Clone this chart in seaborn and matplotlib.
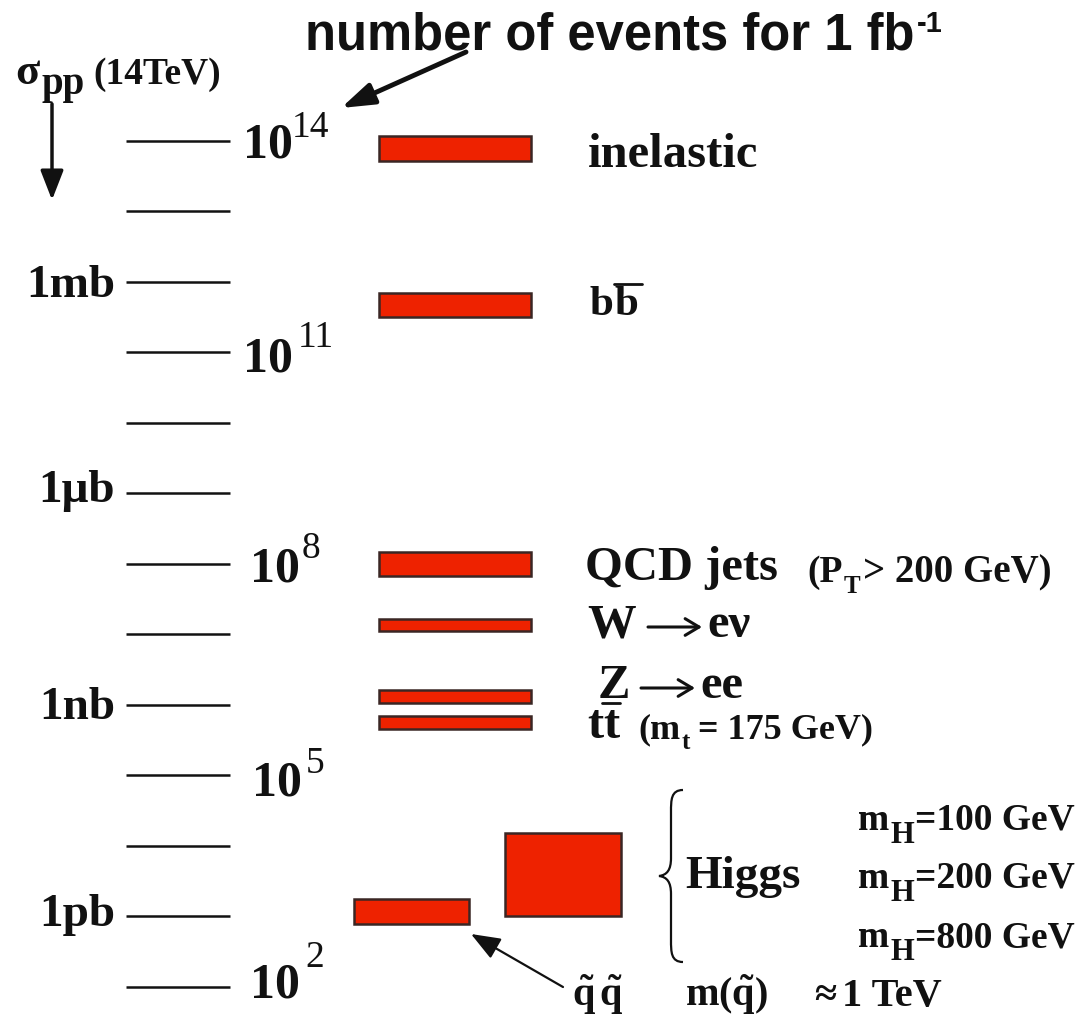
import numpy as np
import pandas as pd
import matplotlib
matplotlib.use("Agg")
import matplotlib.pyplot as plt
from matplotlib.path import Path
from matplotlib.patches import PathPatch
import seaborn as sns

# ---------------- data ----------------
processes = ["inelastic", "bb", "QCD jets", "W->enu", "Z->ee", "tt", "Higgs", "squark"]
log_events_low = [13.71, 11.50, 7.82, 7.05, 6.02, 5.66, 3.00, 2.89]
log_events_high = [14.06, 11.84, 8.17, 7.22, 6.20, 5.84, 4.18, 3.24]
column = ["main", "main", "main", "main", "main", "main", "higgs", "squark"]
decades = list(range(2, 15))
event_labels = ["14", "11", "8", "5", "2"]
xsec_labels = ["1mb", "1\u03bcb", "1nb", "1pb"]
higgs_masses = ["100", "200", "800"]

df = pd.DataFrame({"process": processes, "lo": log_events_low,
                   "hi": log_events_high, "column": column})

# ---------------- style ----------------
sns.set_theme(style="white")
SERIF = "Liberation Serif"
SANS = "Liberation Sans"
plt.rcParams["mathtext.fontset"] = "custom"
plt.rcParams["mathtext.rm"] = "Liberation Serif:bold"
plt.rcParams["mathtext.bf"] = "Liberation Serif:bold"
plt.rcParams["mathtext.it"] = "Liberation Serif:bold"
INK = "#111111"
RED = "#EE2200"
EDGE = "#3a2624"

W, H = 1086, 1031
fig = plt.figure(figsize=(W / 100, H / 100), dpi=100)
fig.patch.set_facecolor("white")

# main axis: y = number of events (log), x = layout pixels
ax = fig.add_axes([0, 0, 1, 1])
ax.set_xlim(0, W)
ax.set_yscale("log")
PX_PER_DEC = 70.5
Y14 = 140.6
ax.set_ylim(10 ** (14 - (H - Y14) / PX_PER_DEC), 10 ** (14 + Y14 / PX_PER_DEC))
ax.axis("off")

# tick segments every decade
ax.hlines([10.0 ** d for d in decades], 126, 230, color=INK, lw=1.8)

# bars
col_x = {"main": (379, 531), "higgs": (505, 621), "squark": (354, 469)}
for _, r in df.iterrows():
    x0, x1 = col_x[r["column"]]
    lo, hi = 10 ** r["lo"], 10 ** r["hi"]
    ax.bar((x0 + x1) / 2, hi - lo, bottom=lo, width=x1 - x0,
           color=RED, edgecolor=EDGE, linewidth=1.8, zorder=3)

# overlay axis in pixel coordinates for text
tx = fig.add_axes([0, 0, 1, 1])
tx.set_xlim(0, W)
tx.set_ylim(H, 0)
tx.axis("off")
tx.patch.set_alpha(0)

fig.canvas.draw()
renderer = fig.canvas.get_renderer()


def put(x, y, s, size, weight="bold", family=SERIF, ha="left"):
    t = tx.text(x, y, s, fontsize=size, fontweight=weight, family=family,
                ha=ha, va="baseline", color=INK)
    bb = t.get_window_extent(renderer)
    return bb.x0, bb.x1


def arrow_right(x0, x1, y):
    tx.annotate("", xy=(x1, y), xytext=(x0, y),
                arrowprops=dict(arrowstyle="->,head_length=0.5,head_width=0.3",
                                lw=2.2, color=INK, mutation_scale=20,
                                shrinkA=0, shrinkB=0))


# title
_, x1 = put(305, 50, "number of events for 1 fb", 36.5, family=SANS)
put(x1 + 2, 32, "-1", 21, family=SANS)
tx.annotate("", xy=(341, 108), xytext=(466, 52),
            arrowprops=dict(arrowstyle="-|>,head_length=0.9,head_width=0.3",
                            lw=3.5, color=INK, mutation_scale=22, shrinkA=0, shrinkB=0))

# sigma_pp (14TeV)
put(15, 84, "\u03c3", 32)
put(41, 94, "pp", 28)
put(93, 84, "(14TeV)", 27)
tx.annotate("", xy=(52, 200), xytext=(52, 104),
            arrowprops=dict(arrowstyle="-|>,head_length=0.9,head_width=0.35",
                            lw=2.5, color=INK, mutation_scale=20, shrinkA=0, shrinkB=0))

# event-count labels
ev_pos = [(243, 158, 292, 137), (243, 372, 298, 347), (250, 582, 302, 558),
          (252, 795, 306, 773), (250, 998, 305, 967)]
for lab, (xa, ya, xb, yb) in zip(event_labels, ev_pos):
    put(xa, ya, "10", 36)
    put(xb, yb, lab, 27, weight="normal")

# cross-section labels
xs_base = [297, 502, 719, 926]
for lab, yb in zip(xsec_labels, xs_base):
    put(115, yb, lab, 34, ha="right")

BIG = 35
put(588, 167, "inelastic", BIG)
_, x1 = put(590, 315, "b", 31)
a, b = put(x1 + 1, 315, "b", 31)
tx.plot([a - 1, b + 3], [284, 284], color=INK, lw=2)

put(585, 580, "QCD jets", BIG)
_, x1 = put(807, 582, "(P", 27)
_, x1 = put(x1 + 1, 593, "T", 18)
put(x1 + 3, 582, "> 200 GeV)", 28)

put(587, 637, "W", BIG)
arrow_right(648, 702, 627)
put(707, 637, "e\u03bd", BIG)
put(598, 698, "Z", BIG)
arrow_right(641, 695, 688)
put(700, 698, "ee", BIG)
_, x1 = put(587, 738, "t", BIG)
a, b = put(x1, 738, "t", BIG)
tx.plot([a - 1, b + 1], [703, 703], color=INK, lw=2)
_, x1 = put(638, 738, "(m", 26)
_, x1 = put(x1 + 1, 749, "t", 18)
put(x1 + 8, 738, "= 175 GeV)", 26)

# Higgs
put(685, 888, "Higgs", 34)
verts = [(683, 790), (671, 790), (671, 800), (671, 812),
         (671, 858),
         (671, 870), (667, 875), (659, 876),
         (667, 877), (671, 882), (671, 894),
         (671, 940),
         (671, 952), (671, 962), (683, 962)]
codes = [Path.MOVETO, Path.CURVE4, Path.CURVE4, Path.CURVE4,
         Path.LINETO,
         Path.CURVE4, Path.CURVE4, Path.CURVE4,
         Path.CURVE4, Path.CURVE4, Path.CURVE4,
         Path.LINETO,
         Path.CURVE4, Path.CURVE4, Path.CURVE4]
tx.add_patch(PathPatch(Path(verts, codes), fill=False, lw=1.6, ec=INK))
for m, yb in zip(higgs_masses, [830, 888, 947]):
    _, x1 = put(858, yb, "m", 27)
    _, x1 = put(x1 + 1, yb + 13, "H", 22)
    put(x1 + 1, yb, "=" + m + " GeV", 27)

# squarks (tilde accents via mathtext)
put(572, 1006, r"$\mathbf{\tilde{q}\,\tilde{q}}$", 29)
put(685, 1006, r"$\mathbf{m(\tilde{q})}$", 29)
put(814, 1006, "\u2248", 29)
put(842, 1006, "1 TeV", 29)
tx.annotate("", xy=(471, 934), xytext=(563, 987),
            arrowprops=dict(arrowstyle="-|>,head_length=0.9,head_width=0.35",
                            lw=1.6, color=INK, mutation_scale=20, shrinkA=0, shrinkB=0))

fig.savefig("out.png", dpi=100, facecolor="white")
